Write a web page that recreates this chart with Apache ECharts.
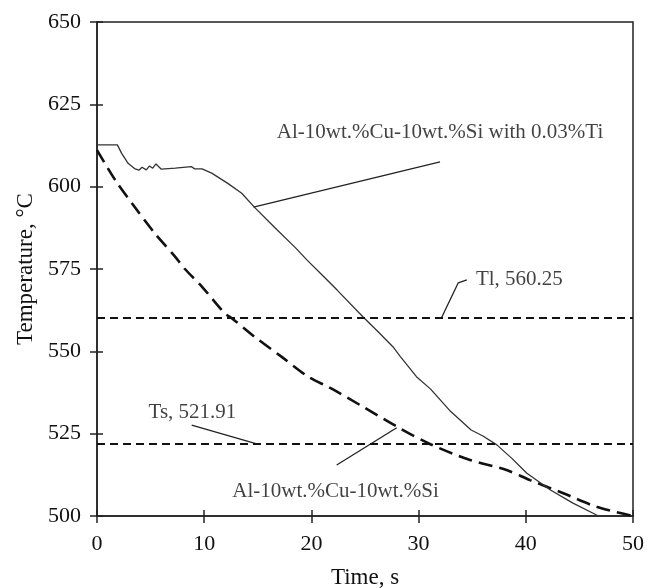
<!DOCTYPE html>
<html>
<head>
<meta charset="utf-8">
<script src="https://cdn.jsdelivr.net/npm/echarts@6/dist/echarts.min.js"></script>
<style>
html,body{margin:0;padding:0;background:#fff;}
#chart{width:660px;height:588px;}
</style>
</head>
<body>
<div id="chart"></div>
<script>
// ---- data ----
var timeTi = [0, 1.9, 2.3, 2.9, 3.5, 3.9, 4.2, 4.6, 4.9, 5.2, 5.5, 6.0, 7.3, 8.8, 9.1, 9.8, 10.7, 12.2, 13.5, 14.7, 16.6, 18.5, 19.6, 21.0, 22.4, 24.8, 26.2, 27.6, 28.3, 29.8, 31.1, 33.0, 34.9, 36.0, 37.3, 38.7, 40.1, 42.3, 44.4, 46.6, 46.9];
var tempTi = [612.7, 612.7, 610.1, 607.1, 605.5, 605.0, 605.9, 605.1, 606.3, 605.6, 606.9, 605.3, 605.6, 606.1, 605.4, 605.4, 604.1, 601.0, 598.0, 593.7, 587.5, 581.5, 577.7, 573.2, 568.6, 560.5, 556.0, 551.4, 548.4, 542.3, 538.6, 531.7, 526.1, 524.3, 521.6, 517.5, 513.0, 507.9, 503.9, 500.3, 500.0];
var timeBase = [0, 1.7, 3.5, 5.4, 7.3, 8.2, 9.8, 11.9, 12.6, 14.7, 17.2, 19.7, 21.8, 24.8, 28.0, 31.1, 34.8, 38.0, 40.4, 43.5, 46.6, 50.0];
var tempBase = [611.1, 602.0, 593.9, 585.8, 578.7, 575.0, 569.6, 561.6, 560.0, 554.4, 548.4, 542.3, 538.8, 533.2, 527.1, 521.8, 517.0, 514.2, 510.9, 506.9, 502.8, 500.0];
var liquidus = 560.25;
var solidus = 521.91;
var xTicks = [0, 10, 20, 30, 40, 50];
var yTicks = [500, 525, 550, 575, 600, 625, 650];
var labelTi = 'Al-10wt.%Cu-10wt.%Si with 0.03%Ti';
var labelBase = 'Al-10wt.%Cu-10wt.%Si';
var labelTl = 'Tl, ' + liquidus.toFixed(2);
var labelTs = 'Ts, ' + solidus.toFixed(2);
// annotation anchors (data coordinates)
var leaderTi = [[14.6, 593.8], [32.0, 607.5]];
var leaderBase = [[22.36, 515.5], [27.96, 526.8]];
var leaderTl = [[32.15, 560.25], [33.7, 570.8], [34.5, 571.7]];
var leaderTs = [[8.83, 527.6], [14.9, 521.91]];
var textPos = [[32.0, 616.6], [22.25, 507.4], [39.4, 571.7], [8.9, 531.4]];
var textLabels = [labelTi, labelBase, labelTl, labelTs];

// ---- chart ----
var FONT = '"Liberation Serif","Times New Roman",serif';
var INK = '#111';
var AXIS = '#222';
function zip(a, b) { return a.map(function (v, i) { return [v, b[i]]; }); }

var chart = echarts.init(document.getElementById('chart'), null, {renderer: 'canvas'});

var baseX = {
  type: 'value', min: xTicks[0], max: xTicks[xTicks.length - 1], interval: xTicks[1] - xTicks[0],
  splitLine: {show: false}, position: 'bottom'
};
var baseY = {
  type: 'value', min: yTicks[0], max: yTicks[yTicks.length - 1], interval: yTicks[1] - yTicks[0],
  splitLine: {show: false}, position: 'left'
};
var gridRect = {left: 97, right: 27, top: 22, bottom: 72, outerBoundsMode: 'none', containLabel: false};

var option = {
  backgroundColor: '#fff',
  animation: false,
  grid: [
    Object.assign({}, gridRect, {show: true, borderColor: AXIS, borderWidth: 1.5, backgroundColor: 'transparent'}),
    Object.assign({}, gridRect, {show: false})
  ],
  xAxis: [
    Object.assign({}, baseX, {
      gridIndex: 0,
      axisLine: {show: true, onZero: false, lineStyle: {color: AXIS, width: 1.5}},
      axisTick: {show: true, length: 7, lineStyle: {color: AXIS, width: 1.5}},
      axisLabel: {color: INK, fontFamily: FONT, fontSize: 22, margin: 17},
      name: 'Time, s', nameLocation: 'middle', nameGap: 50,
      nameTextStyle: {color: INK, fontFamily: FONT, fontSize: 23}
    }),
    Object.assign({}, baseX, {
      gridIndex: 1,
      axisLine: {show: false, onZero: false},
      axisTick: {show: true, inside: true, length: 6, lineStyle: {color: AXIS, width: 1.5}},
      axisLabel: {show: false}
    })
  ],
  yAxis: [
    Object.assign({}, baseY, {
      gridIndex: 0,
      axisLine: {show: true, onZero: false, lineStyle: {color: AXIS, width: 1.5}},
      axisTick: {show: true, length: 7, lineStyle: {color: AXIS, width: 1.5}},
      axisLabel: {color: INK, fontFamily: FONT, fontSize: 22, margin: 16},
      name: 'Temperature, °C', nameLocation: 'middle', nameGap: 60,
      nameTextStyle: {color: INK, fontFamily: FONT, fontSize: 23}
    }),
    Object.assign({}, baseY, {
      gridIndex: 1,
      axisLine: {show: false, onZero: false},
      axisTick: {show: true, inside: true, length: 6, lineStyle: {color: AXIS, width: 1.5}},
      axisLabel: {show: false}
    })
  ],
  series: [
    {
      name: 'Tl/Ts', type: 'line', data: [], silent: true,
      markLine: {
        silent: true, symbol: 'none', label: {show: false},
        lineStyle: {color: '#111', width: 2, type: [8, 5]},
        data: [{yAxis: liquidus}, {yAxis: solidus}]
      }
    },
    {
      name: labelBase, type: 'line', data: zip(timeBase, tempBase), showSymbol: false, smooth: 0.3,
      lineStyle: {color: '#111', width: 2.6, type: [14, 7]}, silent: true, z: 3
    },
    {
      name: labelTi, type: 'line', data: zip(timeTi, tempTi), showSymbol: false,
      lineStyle: {color: '#333', width: 1.3}, silent: true, z: 4
    },
    {type: 'line', data: leaderTi, showSymbol: false, lineStyle: {color: '#222', width: 1.3}, silent: true},
    {type: 'line', data: leaderBase, showSymbol: false, lineStyle: {color: '#222', width: 1.3}, silent: true},
    {type: 'line', data: leaderTl, showSymbol: false, lineStyle: {color: '#222', width: 1.3}, silent: true},
    {type: 'line', data: leaderTs, showSymbol: false, lineStyle: {color: '#222', width: 1.3}, silent: true},
    {
      type: 'scatter', symbolSize: 0, silent: true,
      data: textPos.map(function (p, i) { return {value: p, name: textLabels[i]}; }),
      label: {
        show: true, position: 'inside', color: INK, fontFamily: FONT, fontSize: 21,
        formatter: function (p) { return p.name; }
      }
    },
    {type: 'line', xAxisIndex: 1, yAxisIndex: 1, data: [], silent: true}
  ]
};
chart.setOption(option);
</script>
</body>
</html>
